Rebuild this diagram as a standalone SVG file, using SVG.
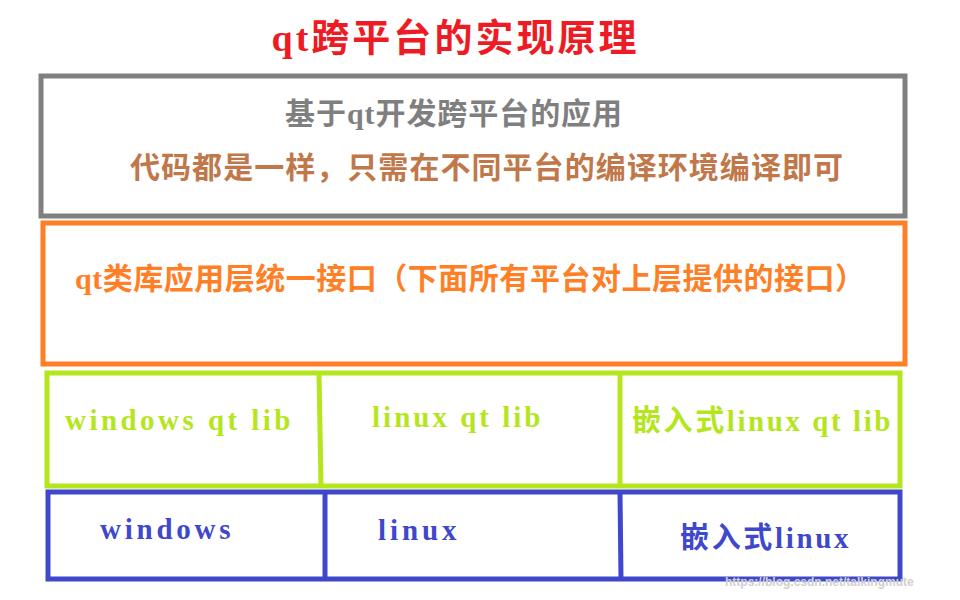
<svg xmlns="http://www.w3.org/2000/svg" width="960" height="600" viewBox="0 0 960 600">
<style>
text{font-family:"Liberation Serif","Noto Sans CJK SC",serif;font-weight:bold}
.box{fill:none;stroke-width:5}
.g{fill:#b5e61d;font-size:29px;letter-spacing:1.5px}
.b{fill:#3f48cc;font-size:29px;letter-spacing:1.5px}
</style>
<rect width="960" height="600" fill="#fff"/>
<text x="454" y="51" text-anchor="middle" font-size="38" fill="#ed1c24" textLength="365">qt跨平台的实现原理</text>
<g id="app">
<rect class="box" x="41" y="76" width="864" height="140" stroke="#808080"/>
<text x="285" y="124" font-size="30" fill="#7f7f7f" textLength="337">基于qt开发跨平台的应用</text>
<text x="130" y="178" font-size="30" fill="#c0784a" textLength="713">代码都是一样，只需在不同平台的编译环境编译即可</text>
</g>
<g id="qtapi">
<rect class="box" x="43" y="223" width="862" height="141" stroke="#ff7f27"/>
<text x="75" y="289" font-size="30" fill="#ff7f27" textLength="790">qt类库应用层统一接口（下面所有平台对上层提供的接口）</text>
</g>
<g id="libs">
<rect class="box" x="47" y="373" width="853" height="113" stroke="#b5e61d"/>
<line x1="319" y1="373" x2="321" y2="486" stroke="#b5e61d" stroke-width="5"/>
<line x1="620" y1="373" x2="620" y2="486" stroke="#b5e61d" stroke-width="5"/>
<text class="g" x="65" y="430" textLength="227">windows qt lib</text>
<text class="g" x="372" y="427" textLength="170">linux qt lib</text>
<text class="g" x="632" y="431" textLength="260">嵌入式linux qt lib</text>
</g>
<g id="os">
<rect class="box" x="48" y="492" width="852" height="87" stroke="#3f48cc"/>
<line x1="325" y1="492" x2="325" y2="579" stroke="#3f48cc" stroke-width="5"/>
<line x1="620" y1="492" x2="621" y2="579" stroke="#3f48cc" stroke-width="5"/>
<text class="b" x="100" y="539" textLength="132">windows</text>
<text class="b" x="378" y="540" textLength="80">linux</text>
<text class="b" x="680" y="548" textLength="170">嵌入式linux</text>
</g>
<g id="connectors"/>
<text x="725" y="586" font-size="12" font-weight="normal" fill="#d0d0d0" style="font-family:'Liberation Sans',sans-serif">https://blog.csdn.net/talkingmute</text>
</svg>
